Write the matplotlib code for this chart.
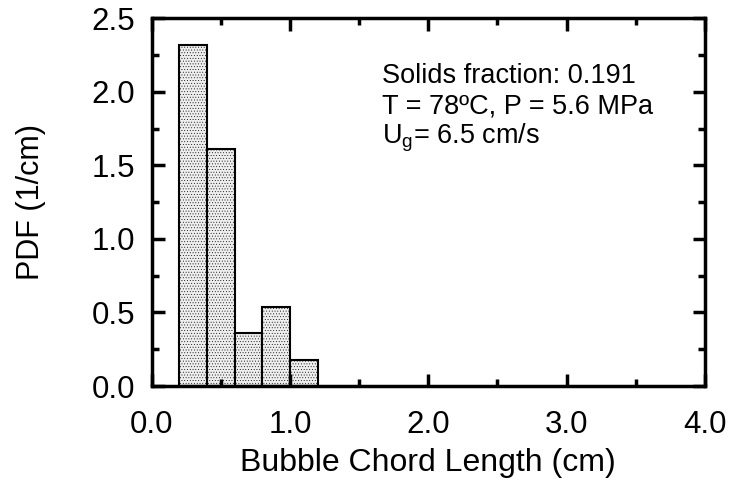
import matplotlib
matplotlib.use("Agg")
import matplotlib.pyplot as plt
from matplotlib.ticker import MultipleLocator

# histogram of bubble chord length
bin_left = [0.2, 0.4, 0.6, 0.8, 1.0]
bin_width = 0.2
pdf = [2.32, 1.61, 0.36, 0.535, 0.176]

info_lines = ["Solids fraction: 0.191", "T = 78\u00baC, P = 5.6 MPa", "U$_\\mathregular{g}$= 6.5 cm/s"]

plt.rcParams["font.family"] = ["Liberation Sans", "DejaVu Sans"]
plt.rcParams["hatch.color"] = "#d2d2d2"
plt.rcParams["hatch.linewidth"] = 0.3

fig = plt.figure(figsize=(7.3, 4.79), dpi=100)
ax = fig.add_axes([0.208, 0.194, 0.7575, 0.768])

ax.bar(bin_left, pdf, width=bin_width, align="edge",
       facecolor="#eeeeee", edgecolor="black", linewidth=1.5, hatch="......")

ax.set_xlim(0, 4)
ax.set_ylim(0, 2.5)
ax.xaxis.set_major_locator(MultipleLocator(1.0))
ax.xaxis.set_minor_locator(MultipleLocator(0.5))
ax.yaxis.set_major_locator(MultipleLocator(0.5))
ax.yaxis.set_minor_locator(MultipleLocator(0.25))
ax.xaxis.set_major_formatter(plt.FormatStrFormatter("%.1f"))
ax.yaxis.set_major_formatter(plt.FormatStrFormatter("%.1f"))

for s in ax.spines.values():
    s.set_linewidth(2.5)
ax.tick_params(which="both", direction="in", top=True, right=True, width=2.5)
ax.tick_params(which="major", length=9, labelsize=22.5)
ax.tick_params(which="minor", length=5)
ax.tick_params(axis="x", which="major", pad=17)
ax.tick_params(axis="y", which="major", pad=12)

ax.set_xlabel("Bubble Chord Length (cm)", fontsize=23, labelpad=6)
ax.set_ylabel("PDF (1/cm)", fontsize=22, labelpad=33)

for i, line in enumerate(info_lines):
    ax.text(0.416, 0.823 - i * 0.082, line, transform=ax.transAxes,
            fontsize=19.5, va="baseline", ha="left")

fig.savefig("out.png", dpi=100)
